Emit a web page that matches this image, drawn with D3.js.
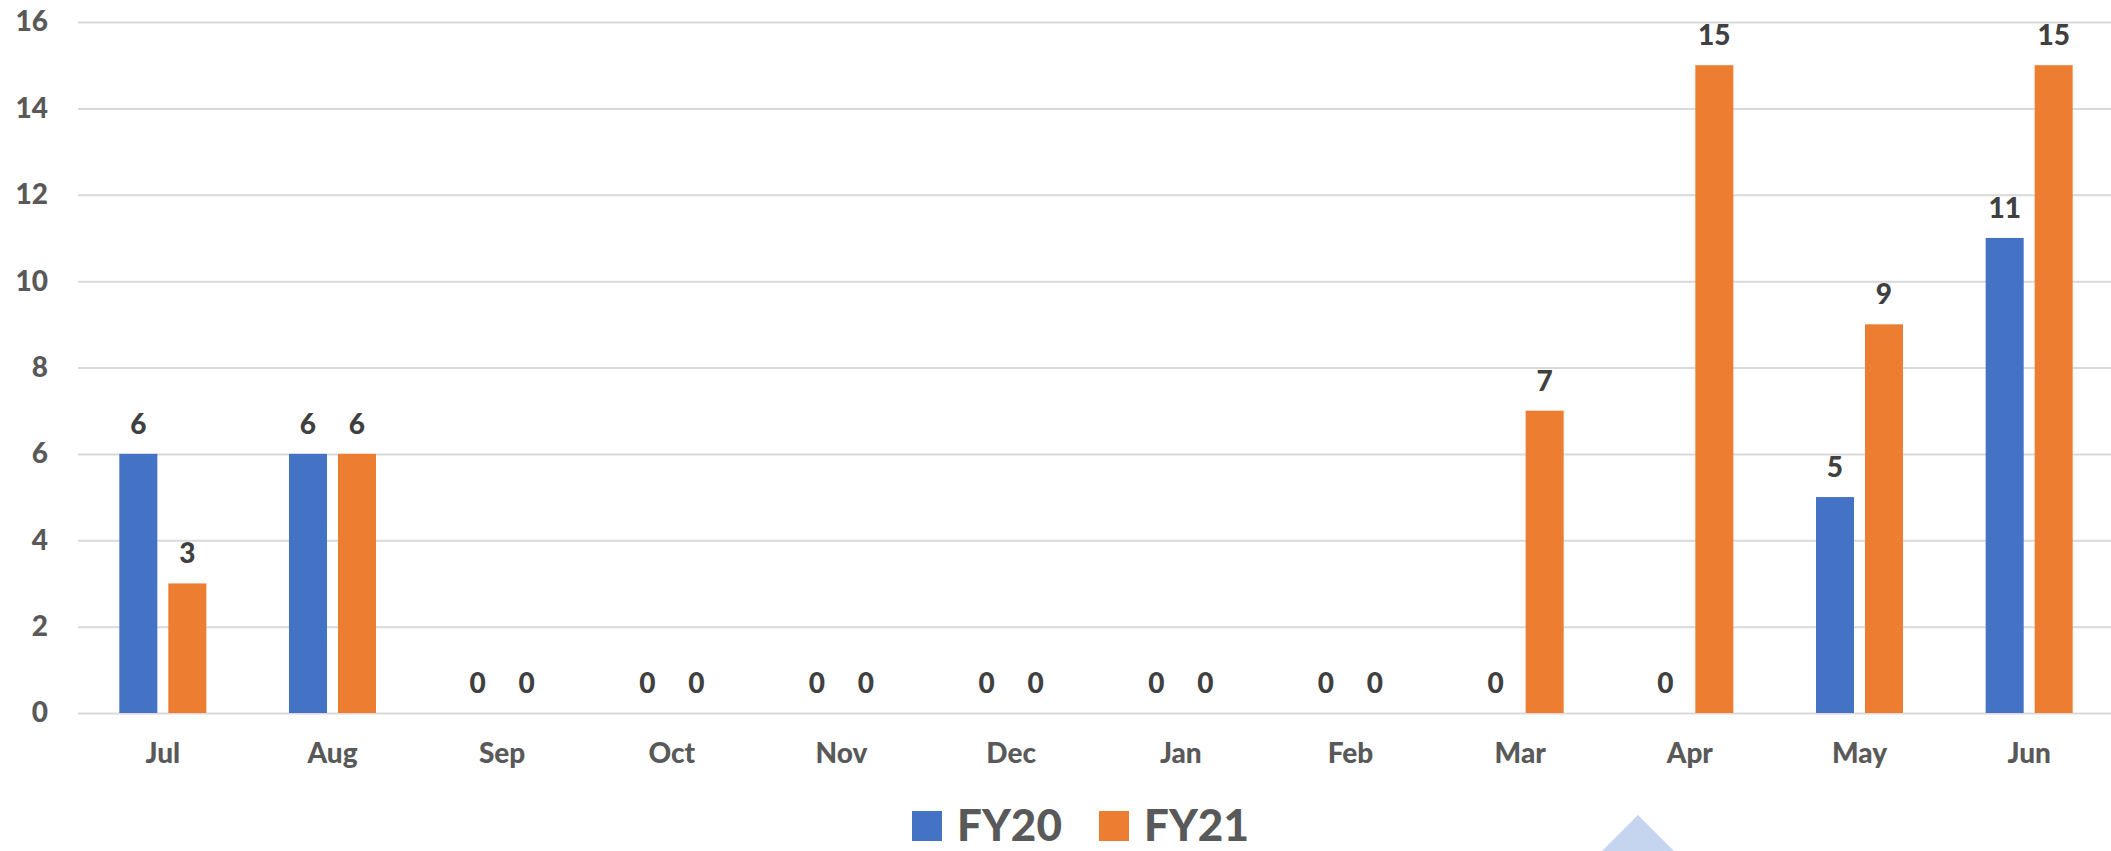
<!DOCTYPE html>
<html>
<head>
<meta charset="utf-8">
<script src="https://cdn.jsdelivr.net/npm/d3@7"></script>
<style>
  body { margin: 0; background: #fff; }
  svg text { font-family: Lato, "Open Sans", sans-serif; font-weight: 900; }
</style>
</head>
<body>
<div id="chart"></div>
<script>
// data
var months = ["Jul", "Aug", "Sep", "Oct", "Nov", "Dec", "Jan", "Feb", "Mar", "Apr", "May", "Jun"];
var seriesNames = ["FY20", "FY21"];
var fy20 = [6, 6, 0, 0, 0, 0, 0, 0, 0, 0, 5, 11];
var fy21 = [3, 6, 0, 0, 0, 0, 0, 0, 7, 15, 9, 15];
var yTicks = [0, 2, 4, 6, 8, 10, 12, 14, 16];

var colors = {"FY20": "#4472C4", "FY21": "#ED7D31"};

var W = 2111, H = 851;
var margin = {top: 22, right: -3, bottom: 138, left: 78};
var width = W - margin.left - margin.right;
var height = H - margin.top - margin.bottom;

var svg = d3.select("#chart").append("svg")
    .attr("width", W)
    .attr("height", H);

var g = svg.append("g")
    .attr("transform", "translate(" + margin.left + "," + margin.top + ")");

var x = d3.scaleBand().domain(months).range([0, width]);
var y = d3.scaleLinear().domain([0, 16]).range([height, 0]);

// inner band for the two series
var bw = x.bandwidth();
var xSub = d3.scaleBand().domain(seriesNames)
    .range([bw * 0.2436, bw * 0.7564])
    .paddingInner(0.2245);

// gridlines
g.append("g")
    .attr("class", "grid")
    .call(d3.axisLeft(y).tickValues(yTicks).tickSize(-width).tickFormat(""))
    .call(function(s) { s.select(".domain").remove(); })
    .selectAll("line")
    .attr("stroke", "#d9d9d9")
    .attr("stroke-width", 2);

// y labels
var yAxis = g.append("g")
    .call(d3.axisLeft(y).tickValues(yTicks).tickSize(0).tickPadding(30));
yAxis.select(".domain").remove();
yAxis.selectAll("text")
    .attr("fill", "#595959")
    .style("font-size", "28px");

// x labels
var xAxis = g.append("g")
    .attr("transform", "translate(0," + height + ")")
    .call(d3.axisBottom(x).tickSize(0).tickPadding(30));
xAxis.select(".domain").remove();
xAxis.selectAll("text")
    .attr("fill", "#595959")
    .style("font-size", "28px");

var rows = months.map(function(m, i) {
    return {month: m, values: [{key: "FY20", v: fy20[i]}, {key: "FY21", v: fy21[i]}]};
});

var groups = g.selectAll(".month")
    .data(rows)
    .enter()
    .append("g")
    .attr("class", "month")
    .attr("transform", function(d) { return "translate(" + x(d.month) + ",0)"; });

groups.selectAll("rect")
    .data(function(d) { return d.values; })
    .enter()
    .append("rect")
    .attr("x", function(d) { return xSub(d.key); })
    .attr("width", xSub.bandwidth())
    .attr("y", function(d) { return y(d.v); })
    .attr("height", function(d) { return height - y(d.v); })
    .attr("fill", function(d) { return colors[d.key]; });

// data labels
groups.selectAll(".lbl")
    .data(function(d) { return d.values; })
    .enter()
    .append("text")
    .attr("class", "lbl")
    .attr("x", function(d) { return xSub(d.key) + xSub.bandwidth() / 2; })
    .attr("y", function(d) { return y(d.v) - 20; })
    .attr("text-anchor", "middle")
    .attr("fill", "#404040")
    .style("font-size", "28px")
    .text(function(d) { return d.v; });

// legend (kept just above the bottom edge)
var legend = svg.append("g").attr("transform", "translate(912,809)");
var legX = [0, 187];
seriesNames.forEach(function(name, i) {
    legend.append("rect")
        .attr("x", legX[i])
        .attr("y", 2)
        .attr("width", 30)
        .attr("height", 30)
        .attr("fill", colors[name]);
    legend.append("text")
        .attr("x", legX[i] + 45)
        .attr("y", 32)
        .attr("fill", "#595959")
        .style("font-size", "44px")
        .text(name);
});

// decorative triangle at the bottom
svg.append("path")
    .attr("d", "M1638,815 L1674,851 L1602,851 Z")
    .attr("fill", "#c5d4ef");
</script>
</body>
</html>
